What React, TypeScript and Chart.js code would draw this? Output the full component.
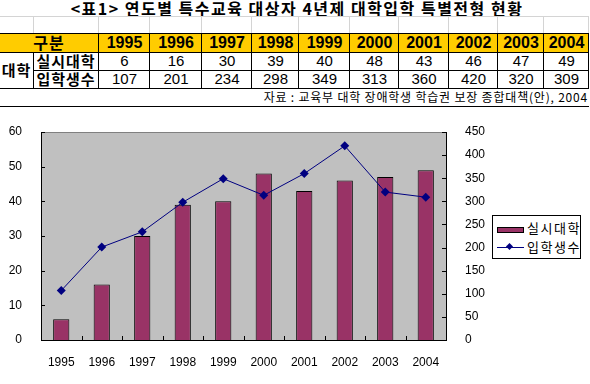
import React, { useEffect, useRef } from "react";
import { Chart, registerables } from "chart.js";
Chart.register(...registerables);

// ---- data ----
const years = ["1995", "1996", "1997", "1998", "1999", "2000", "2001", "2002", "2003", "2004"];
const univCounts = [6, 16, 30, 39, 40, 48, 43, 46, 47, 49]; // 실시대학
const admissions = [107, 201, 234, 298, 349, 313, 360, 420, 320, 309]; // 입학생수
const seriesNames = ["실시대학", "입학생수"];
const leftAxisMax = 60;
const leftAxisStep = 10;
const rightAxisMax = 450;
const rightAxisStep = 50;
const titleText = "<표1> 연도별 특수교육 대상자 4년제 대학입학 특별전형 현황";
const sourceText = "자료 : 교육부 대학 장애학생 학습권 보장 종합대책(안), 2004";
const headerLabel = "구분";
const groupLabel = "대학";

// ---- layout (not data) ----
const colEdges = [98, 149, 201, 251, 298, 349, 398, 448, 497, 543, 588];
const rowTop = 33;
const rowH = [19, 18, 18];
const KR = '"Noto Sans CJK KR", "Noto Sans", sans-serif';
const LAT = '"Liberation Sans", Arial, sans-serif';
const BAR = "#993366";
const LINE = "#000080";

const plotDecor = {
  id: "plotDecor",
  beforeDraw(chart: any) {
    const { ctx, chartArea } = chart;
    const { left, top, right, bottom } = chartArea;
    ctx.save();
    ctx.fillStyle = "#C0C0C0";
    ctx.fillRect(left, top, right - left, bottom - top);
    ctx.strokeStyle = "#808080";
    ctx.lineWidth = 1;
    ctx.beginPath();
    ctx.moveTo(left, Math.round(top) + 0.5);
    ctx.lineTo(right, Math.round(top) + 0.5);
    ctx.stroke();
    ctx.restore();
  },
  afterDraw(chart: any) {
    const { ctx, chartArea, scales } = chart;
    const { left, right, bottom } = chartArea;
    ctx.save();
    ctx.strokeStyle = "#000";
    ctx.lineWidth = 1;
    ctx.beginPath();
    for (let v = 0; v <= leftAxisMax; v += leftAxisStep) {
      const y = Math.round(scales.y.getPixelForValue(v)) + 0.5;
      ctx.moveTo(left, y);
      ctx.lineTo(left + 4, y);
    }
    for (let v = 0; v <= rightAxisMax; v += rightAxisStep) {
      const y = Math.round(scales.y1.getPixelForValue(v)) + 0.5;
      ctx.moveTo(right - 4, y);
      ctx.lineTo(right, y);
    }
    for (let i = 1; i < years.length; i++) {
      const x = Math.round((scales.x.getPixelForValue(i - 1) + scales.x.getPixelForValue(i)) / 2) + 0.5;
      ctx.moveTo(x, bottom - 4);
      ctx.lineTo(x, bottom);
    }
    ctx.stroke();
    ctx.restore();
  },
};

function ChartCanvas() {
  const ref = useRef<HTMLCanvasElement | null>(null);
  useEffect(() => {
    if (!ref.current) return;
    const chart = new Chart(ref.current, {
      type: "bar",
      data: {
        labels: years,
        datasets: [
          {
            type: "line",
            label: seriesNames[1],
            data: admissions,
            yAxisID: "y1",
            borderColor: LINE,
            backgroundColor: LINE,
            borderWidth: 1,
            pointStyle: "rectRot",
            pointRadius: 4.5,
            pointBorderWidth: 0,
            tension: 0,
            order: 0,
          } as any,
          {
            type: "bar",
            label: seriesNames[0],
            data: univCounts,
            yAxisID: "y",
            backgroundColor: BAR,
            borderColor: "#000",
            borderWidth: 1,
            barPercentage: 0.4,
            categoryPercentage: 1,
            order: 1,
          } as any,
        ],
      },
      options: {
        responsive: false,
        animation: false,
        layout: { padding: { top: 20, left: 0, right: 0, bottom: 0 } },
        plugins: { legend: { display: false }, tooltip: { enabled: false } },
        scales: {
          x: {
            grid: { display: false },
            border: { display: true, color: "#000", width: 1 },
            ticks: { color: "#000", font: { family: LAT, size: 12 }, padding: 7, maxRotation: 0 },
            afterFit(s: any) { s.height = 44; },
          },
          y: {
            position: "left",
            min: 0,
            max: leftAxisMax,
            grid: { display: false },
            border: { display: true, color: "#000", width: 1 },
            ticks: { stepSize: leftAxisStep, color: "#000", font: { family: LAT, size: 12 }, padding: 11 },
            afterFit(s: any) { s.width = 41; },
          },
          y1: {
            position: "right",
            min: 0,
            max: rightAxisMax,
            grid: { display: false },
            border: { display: true, color: "#000", width: 1 },
            ticks: { stepSize: rightAxisStep, color: "#000", font: { family: LAT, size: 12 }, padding: 11 },
            afterFit(s: any) { s.width = 144; },
          },
        },
      } as any,
      plugins: [plotDecor],
    });
    return () => chart.destroy();
  }, []);
  return (
    <canvas
      ref={ref}
      width={590}
      height={272}
      style={{ position: "absolute", left: 0, top: 112, width: 590, height: 272, display: "block" }}
    />
  );
}

function Line({ x, y, w, h, c = "#000" }: { x: number; y: number; w: number; h: number; c?: string }) {
  return <div style={{ position: "absolute", left: x, top: y, width: w, height: h, background: c }} />;
}

function Cell({ x, y, w, h, text, font, size, bold, ls = 0 }: any) {
  return (
    <div
      style={{
        position: "absolute",
        left: x,
        top: y,
        width: w,
        height: h,
        lineHeight: h + "px",
        textAlign: "center",
        fontFamily: font,
        fontSize: size,
        fontWeight: bold ? 700 : 400,
        letterSpacing: ls,
        whiteSpace: "nowrap",
        color: "#000",
      }}
    >
      {text}
    </div>
  );
}

function Table() {
  const r0 = rowTop;
  const r1 = r0 + rowH[0];
  const r2 = r1 + rowH[1];
  const r3 = r2 + rowH[2];
  const srcBottom = r3 + 18;
  const els: any[] = [];
  els.push(<Line key="lh" x={0} y={16} w={588} h={1} c="#d4d4d4" />);
  [33, ...colEdges].forEach((x, i) => els.push(<Line key={"lv" + i} x={x} y={16} w={1} h={r0 - 16} c="#d4d4d4" />));
  els.push(<div key="hf" style={{ position: "absolute", left: 0, top: r0, width: 588, height: rowH[0], background: "#FFCC00" }} />);
  [r0, r1, r2, r3, srcBottom].forEach((y, i) => {
    const x0 = i === 2 ? 33 : 0;
    els.push(<Line key={"h" + i} x={x0} y={y} w={589 - x0} h={1} />);
  });
  els.push(<Line key="v33" x={33} y={r1} w={1} h={r3 - r1} />);
  colEdges.forEach((x, i) => els.push(<Line key={"v" + i} x={x} y={r0} w={1} h={r3 - r0} />));
  els.push(<Cell key="hg" x={0} y={r0} w={98} h={rowH[0]} text={headerLabel} font={KR} size={16} bold ls={1} />);
  years.forEach((yv, i) =>
    els.push(
      <Cell key={"hy" + i} x={colEdges[i] + 1} y={r0} w={colEdges[i + 1] - colEdges[i]} h={rowH[0]} text={yv} font={LAT} size={16} bold />
    )
  );
  els.push(<Cell key="grp" x={0} y={r1} w={33} h={r3 - r1} text={groupLabel} font={KR} size={15} bold ls={1} />);
  els.push(<Cell key="s1" x={34} y={r1} w={64} h={rowH[1]} text={seriesNames[0]} font={KR} size={15} bold ls={1} />);
  els.push(<Cell key="s2" x={34} y={r2} w={64} h={rowH[2]} text={seriesNames[1]} font={KR} size={15} bold ls={1} />);
  univCounts.forEach((v, i) =>
    els.push(<Cell key={"a" + i} x={colEdges[i] + 1} y={r1} w={colEdges[i + 1] - colEdges[i]} h={rowH[1]} text={String(v)} font={LAT} size={15} />)
  );
  admissions.forEach((v, i) =>
    els.push(<Cell key={"b" + i} x={colEdges[i] + 1} y={r2} w={colEdges[i + 1] - colEdges[i]} h={rowH[2]} text={String(v)} font={LAT} size={15} />)
  );
  els.push(
    <div
      key="src"
      style={{
        position: "absolute",
        right: 590 - 588,
        top: r3,
        height: 18,
        lineHeight: "18px",
        fontFamily: KR,
        fontSize: 12,
        letterSpacing: 0.8,
        whiteSpace: "nowrap",
        color: "#000",
      }}
    >
      {sourceText}
    </div>
  );
  return <>{els}</>;
}

function Legend() {
  return (
    <div
      style={{
        position: "absolute",
        left: 492,
        top: 215,
        width: 87,
        height: 42,
        border: "1px solid #000",
        background: "#fff",
        fontFamily: KR,
        fontSize: 13,
        color: "#000",
      }}
    >
      <div style={{ position: "absolute", left: 4, top: 11, width: 25, height: 4, background: BAR, border: "1px solid #000" }} />
      <div style={{ position: "absolute", left: 34, top: 4, lineHeight: "16px", letterSpacing: 1.5, whiteSpace: "nowrap" }}>{seriesNames[0]}</div>
      <div style={{ position: "absolute", left: 4, top: 31, width: 27, height: 1, background: LINE }} />
      <div style={{ position: "absolute", left: 14, top: 28, width: 5, height: 5, background: LINE, transform: "rotate(45deg)" }} />
      <div style={{ position: "absolute", left: 34, top: 23, lineHeight: "16px", letterSpacing: 1.5, whiteSpace: "nowrap" }}>{seriesNames[1]}</div>
    </div>
  );
}

export default function App() {
  return (
    <div style={{ position: "absolute", left: 0, top: 0, width: 590, height: 384, background: "#fff", overflow: "hidden" }}>
      <div
        style={{
          position: "absolute",
          left: 0,
          top: 0,
          width: 594,
          textAlign: "center",
          fontFamily: KR,
          fontWeight: 700,
          fontSize: 16,
          lineHeight: "17px",
          letterSpacing: 1.5,
          whiteSpace: "nowrap",
          color: "#000",
        }}
      >
        {titleText}
      </div>
      <Table />
      <ChartCanvas />
      <Legend />
    </div>
  );
}
